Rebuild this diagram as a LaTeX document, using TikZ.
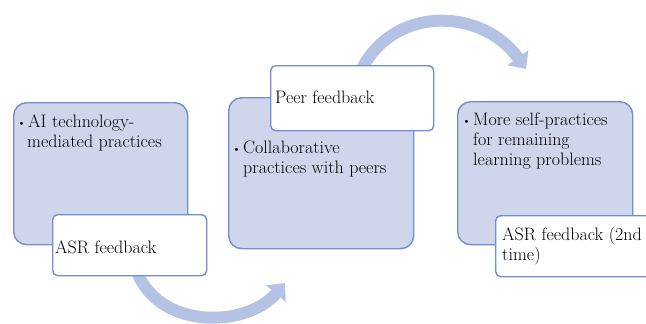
\documentclass[tikz,border=0pt]{standalone}
\usepackage{fontspec}
\usetikzlibrary{arrows.meta}
\definecolor{panelfill}{HTML}{CFD5EA}
\definecolor{panelline}{HTML}{6F8FD0}
\definecolor{flow}{HTML}{B4C2E4}
\begin{document}
\begin{tikzpicture}[x=1pt,y=-1pt,
  panel/.style={draw=panelline, fill=panelfill, line width=1.4pt, rounded corners=13pt,
                anchor=north west, inner sep=0pt},
  tag/.style={draw=panelline, fill=white, line width=1.4pt, rounded corners=5pt,
              anchor=north west, inner sep=0pt},
  txt/.style={anchor=base west, inner sep=0pt, font=\fontsize{18}{20}\selectfont},
  dot/.style={anchor=base east, inner sep=0pt, font=\fontsize{11}{11}\selectfont},
  flowarrow/.style={draw=flow, line width=12pt, -{Triangle[width=25pt,length=14pt]}}]
\useasboundingbox (0,0) rectangle (646,324);
\clip (0,0) rectangle (646,324);

% curved flow arrows, drawn first so the boxes cover their tails
\coordinate (a1s) at (134,262);
\coordinate (a1e) at (285,283);
\coordinate (a2s) at (357,80);
\coordinate (a2e) at (526,69);
\draw[flowarrow] (a1s) .. controls (150,330) and (245,330) .. (a1e);
\draw[flowarrow] (a2s) .. controls (385,5) and (480,5) .. (a2e);

% stage panels
\node[panel, minimum width=174pt, minimum height=142pt] (p1) at (13,102) {};
\node[panel, minimum width=185pt, minimum height=151pt] (p2) at (228,97) {};
\node[panel, minimum width=175pt, minimum height=143pt] (p3) at (457,101) {};

% feedback tags
\node[tag, minimum width=154pt, minimum height=61pt] (t1) at (52,214) {};
\node[tag, minimum width=163pt, minimum height=65pt] (t2) at (270,65) {};
\node[tag, minimum width=170pt, minimum height=61pt] (t3) at (495,215) {};

% panel texts
\node[dot] (b1) at (26,126) {\textbullet};
\node[txt] (l1a) at (28,127) {AI technology-};
\node[txt] (l1b) at (27,147) {mediated practices};

\node[dot] (b2) at (241,152) {\textbullet};
\node[txt] (l2a) at (243,153) {Collaborative};
\node[txt] (l2b) at (243,173) {practices with peers};

\node[dot] (b3) at (471,124) {\textbullet};
\node[txt] (l3a) at (473,125) {More self-practices};
\node[txt] (l3b) at (473,145) {for remaining};
\node[txt] (l3c) at (473,165) {learning problems};

% tag texts
\node[txt] (f1) at (55,253) {ASR feedback};
\node[txt] (f2) at (275,103) {Peer feedback};
\node[txt] (f3a) at (502,240) {ASR feedback (2nd};
\node[txt] (f3b) at (502,260) {time)};
\end{tikzpicture}
\end{document}
